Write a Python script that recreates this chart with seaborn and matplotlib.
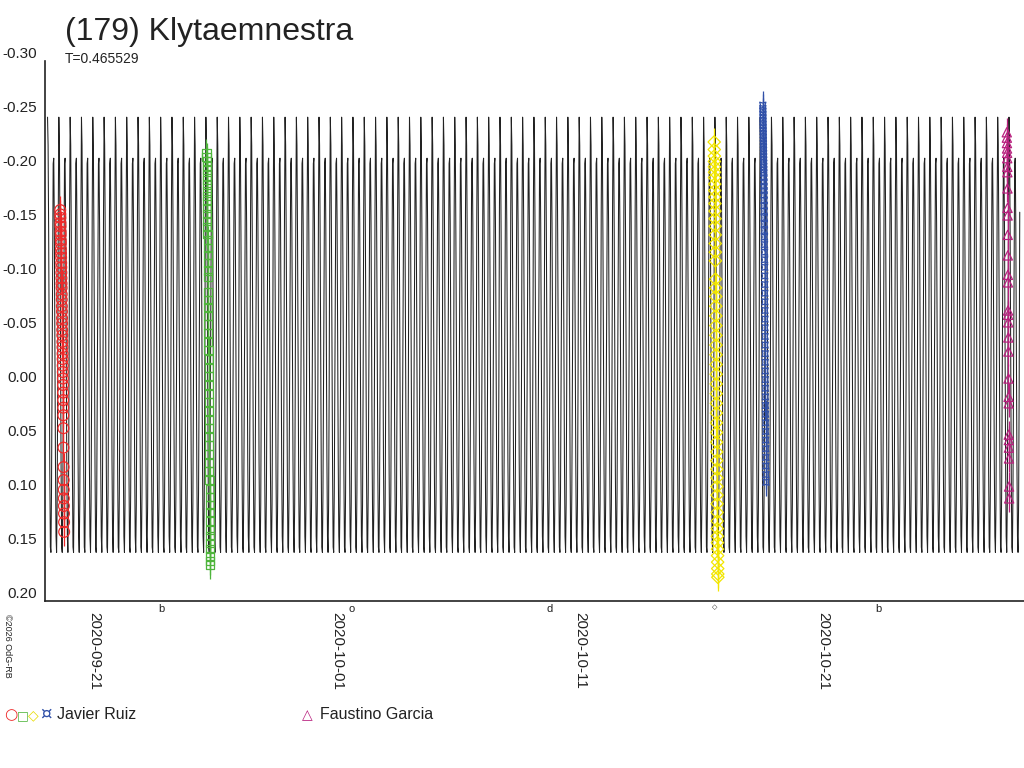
import matplotlib
matplotlib.use('Agg')
import matplotlib.pyplot as plt
import seaborn as sns
import numpy as np
import pandas as pd

# --- model lightcurve: one rotation, tiled with the period -------------------
period = 0.465529
model_epoch = '2020-09-19 09:00'
n_cycles = 86
lc_phase = [0.00, 0.05, 0.10, 0.15, 0.20, 0.25, 0.30, 0.35, 0.40, 0.45,
            0.50, 0.55, 0.60, 0.65, 0.70, 0.75, 0.80, 0.85, 0.90, 0.95]
lc_mag = [-0.248, -0.222, -0.140, -0.030, 0.080, 0.150, 0.155, 0.100, 0.000, -0.110,
          -0.205, -0.210, -0.150, -0.040, 0.070, 0.140, 0.155, 0.110, 0.000, -0.160]

# --- observing sessions (start time, minutes after start, magnitude) ---------
red_start = '2020-09-19 21:30'
red_min = [0, 5, 10, 15, 20, 25, 30, 35, 40, 45, 50, 55, 60, 65, 70, 75, 80, 85,
           90, 95, 100, 105, 110, 115, 120, 125, 130, 135, 140, 145, 150, 155, 160, 165,
           170, 175, 180, 185, 190, 195, 200, 205, 210, 215, 220, 225, 230, 235]
red_mag = [-0.162, -0.158, -0.155, -0.150, -0.147, -0.142, -0.139, -0.134, -0.131, -0.126,
           -0.122, -0.118, -0.113, -0.109, -0.104, -0.099, -0.094, -0.090, -0.084, -0.079,
           -0.073, -0.068, -0.062, -0.057, -0.051, -0.046, -0.040, -0.035, -0.029, -0.024,
           -0.018, -0.012, -0.006, 0.000, 0.007, 0.014, 0.021, 0.028, 0.040, 0.058,
           0.076, 0.088, 0.097, 0.105, 0.112, 0.119, 0.127, 0.136]

green_start = '2020-09-25 22:00'
green_min = [0, 4, 8, 12, 16, 20, 24, 28, 32, 36, 40, 44, 48, 52, 56, 60, 64, 68, 72,
             76, 80, 84, 92, 96, 100, 104, 108, 112, 116, 120, 124, 128, 132, 136, 140,
             144, 148, 152, 156, 160, 164, 168, 172, 176, 180, 184, 188, 192, 196, 200,
             204, 208, 212, 216, 220, 224, 228]
green_mag = [-0.215, -0.211, -0.207, -0.203, -0.199, -0.194, -0.190, -0.185, -0.180, -0.175,
             -0.170, -0.164, -0.158, -0.152, -0.146, -0.140, -0.134, -0.127, -0.120, -0.113,
             -0.106, -0.100, -0.086, -0.079, -0.072, -0.064, -0.056, -0.048, -0.040, -0.032,
             -0.024, -0.016, -0.008, 0.000, 0.008, 0.016, 0.024, 0.032, 0.040, 0.048,
             0.056, 0.064, 0.072, 0.080, 0.088, 0.096, 0.104, 0.111, 0.118, 0.126,
             0.134, 0.140, 0.146, 0.152, 0.158, 0.163, 0.167]

yellow_start = '2020-10-16 19:30'
yellow_min = [0, 4, 8, 12, 16, 20, 24, 28, 32, 36, 40, 44, 48, 52, 56, 60, 64, 68,
              76, 80, 84, 88, 92, 96, 100, 104, 108, 112, 116, 120, 124, 128, 132, 136,
              140, 144, 148, 152, 156, 160, 164, 168, 172, 176, 180, 184, 188, 192, 196,
              200, 204, 208, 212, 216]
yellow_mag = [-0.225, -0.218, -0.212, -0.207, -0.202, -0.197, -0.192, -0.186, -0.180, -0.174,
              -0.168, -0.161, -0.154, -0.147, -0.139, -0.131, -0.123, -0.115, -0.098, -0.090,
              -0.082, -0.073, -0.064, -0.055, -0.046, -0.037, -0.028, -0.019, -0.010, -0.001,
              0.008, 0.017, 0.026, 0.035, 0.044, 0.053, 0.062, 0.070, 0.078, 0.086,
              0.094, 0.102, 0.110, 0.118, 0.126, 0.133, 0.140, 0.146, 0.152, 0.158,
              0.164, 0.170, 0.175, 0.178]

blue_start = '2020-10-18 19:30'
blue_min = [0, 3, 6, 9, 12, 15, 18, 21, 24, 27, 30, 33, 36, 39, 42, 45, 48, 51, 54, 57,
            60, 63, 66, 69, 72, 75, 78, 81, 84, 87, 90, 93, 96, 99, 102, 105, 108, 111,
            114, 117, 120, 123, 126, 129, 132, 135, 138, 141, 144, 147, 150, 153, 156,
            159, 162, 165, 168, 171, 174, 177, 180, 183, 186]
blue_mag = [-0.259, -0.256, -0.253, -0.250, -0.247, -0.244, -0.241, -0.238, -0.235, -0.232,
            -0.229, -0.226, -0.223, -0.220, -0.217, -0.214, -0.211, -0.208, -0.205, -0.202,
            -0.199, -0.196, -0.192, -0.188, -0.184, -0.180, -0.176, -0.171, -0.166, -0.161,
            -0.155, -0.149, -0.143, -0.137, -0.130, -0.123, -0.116, -0.109, -0.101, -0.093,
            -0.085, -0.077, -0.069, -0.061, -0.053, -0.045, -0.037, -0.029, -0.021, -0.013,
            -0.005, 0.003, 0.011, 0.019, 0.027, 0.035, 0.043, 0.051, 0.059, 0.067,
            0.075, 0.083, 0.090]

magenta_start = '2020-10-28 20:30'
magenta_min = [0, 5, 10, 15, 20, 25, 30, 35, 40, 45, 50, 55, 60, 65, 70, 75, 80, 85,
               90, 95, 100, 105, 110, 115, 120, 125, 130, 135, 140]
magenta_mag = [-0.234, -0.229, -0.224, -0.219, -0.215, -0.210, -0.202, -0.197, -0.182, -0.164,
               -0.157, -0.139, -0.120, -0.102, -0.095, -0.069, -0.065, -0.058, -0.044, -0.031,
               -0.006, 0.011, 0.017, 0.046, 0.051, 0.058, 0.068, 0.094, 0.105]

mag_err = 0.013

# moon phases shown under the axis
moon_dates = ['2020-09-24 01:55', '2020-10-01 21:05', '2020-10-10 00:39',
              '2020-10-16 19:31', '2020-10-23 13:23']
moon_glyphs = ['b', 'o', 'd', '\u25C7', 'b']

date_ticks = ['2020-09-21', '2020-10-01', '2020-10-11', '2020-10-21']
y_ticks = [-0.30, -0.25, -0.20, -0.15, -0.10, -0.05, 0.00, 0.05, 0.10, 0.15, 0.20]

# --- build frames -------------------------------------------------------------
cyc = np.arange(n_cycles)
model_days = (cyc[:, None] + np.array(lc_phase)[None, :]).ravel() * period
model = pd.DataFrame({
    'time': pd.Timestamp(model_epoch) + pd.to_timedelta(model_days, unit='D'),
    'mag': np.tile(lc_mag, n_cycles),
})

sessions = [
    (red_start, red_min, red_mag, '#ee2a2a', 'o', 60),
    (green_start, green_min, green_mag, '#4fb53c', 's', 34),
    (yellow_start, yellow_min, yellow_mag, '#f2e600', 'D', 40),
    (blue_start, blue_min, blue_mag, '#3050a8', (4, 1, 45), 40),
    (magenta_start, magenta_min, magenta_mag, '#b8207e', '^', 44),
]

sns.set_style('white')
plt.rcParams['font.family'] = ['Liberation Sans', 'DejaVu Sans']
plt.rcParams['axes.unicode_minus'] = False

fig = plt.figure(figsize=(10.24, 7.68), dpi=100)
ax = fig.add_axes([45 / 1024, 1 - 601 / 768, 979 / 1024, 540 / 768])

sns.lineplot(data=model, x='time', y='mag', estimator=None, sort=False,
             color='#222222', lw=0.75, ax=ax)

for start, mins, mags, col, mk, size in sessions:
    df = pd.DataFrame({
        'time': pd.Timestamp(start) + pd.to_timedelta(mins, unit='m'),
        'mag': mags,
    })
    ax.errorbar(df['time'], df['mag'], yerr=mag_err, fmt='none',
                ecolor=col, elinewidth=0.9, capsize=0, zorder=3)
    sns.scatterplot(data=df, x='time', y='mag', marker=mk, s=size,
                    color=col, facecolor='none', edgecolor=col,
                    linewidth=0.9, ax=ax, zorder=4)

ax.set_xlim(pd.Timestamp('2020-09-19 06:30'), pd.Timestamp('2020-10-29 13:30'))
ax.set_ylim(0.20, -0.30)

ax.set_yticks(y_ticks)
ax.set_yticklabels([f'{v:.2f}' for v in y_ticks], fontsize=11, va='bottom')
ax.tick_params(axis='y', direction='out', length=6, width=1, pad=0, colors='#222222')

ax.set_xticks(pd.to_datetime(date_ticks))
ax.set_xticklabels(date_ticks, fontsize=11, rotation=270, ha='left', va='top')
ax.tick_params(axis='x', direction='out', length=8, width=1, pad=0, colors='#222222')

ax.set_xlabel('')
ax.set_ylabel('')
for side in ['top', 'right']:
    ax.spines[side].set_visible(False)
for side in ['left', 'bottom']:
    ax.spines[side].set_color('#222222')
    ax.spines[side].set_linewidth(1.2)
ax.grid(False)

for d, g in zip(moon_dates, moon_glyphs):
    ax.text(pd.Timestamp(d), 0.203, g, fontsize=8 if g != '\u25C7' else 5,
            ha='center', va='top', color='#222222')

# header
fig.text(65 / 1024, 1 - 40 / 768, '(179) Klytaemnestra', fontsize=23,
         color='#222222', va='baseline')
fig.text(65 / 1024, 1 - 63 / 768, 'T=0.465529', fontsize=10,
         color='#222222', va='baseline')

# small vertical credit
fig.text(3 / 1024, 1 - 614 / 768, '\u00a92026 OdG-RB', fontsize=6.5, rotation=270,
         ha='left', va='top', color='#222222')

# legend row
legend_y = 1 - 719 / 768
fig.text(4 / 1024, legend_y, '\u25CB', color='#ee2a2a', fontsize=11, va='baseline',
         family='DejaVu Sans')
fig.text(17 / 1024, legend_y, '\u25A1', color='#4fb53c', fontsize=9, va='baseline',
         family='DejaVu Sans')
fig.text(28 / 1024, legend_y, '\u25C7', color='#e8dc00', fontsize=10, va='baseline',
         family='DejaVu Sans')
fig.text(40 / 1024, legend_y, '\u00a4', color='#3050a8', fontsize=13, va='baseline',
         family='DejaVu Sans')
fig.text(57 / 1024, legend_y, 'Javier Ruiz', fontsize=11.5, color='#222222', va='baseline')
fig.text(302 / 1024, legend_y, '\u25B3', color='#b8207e', fontsize=10, va='baseline',
         family='DejaVu Sans')
fig.text(320 / 1024, legend_y, 'Faustino Garcia', fontsize=11.5, color='#222222',
         va='baseline')

fig.savefig('out.png', dpi=100)
